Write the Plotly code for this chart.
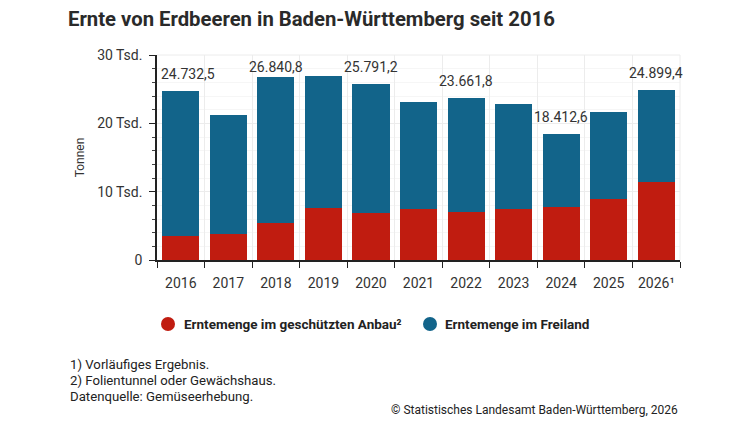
import plotly.graph_objects as go

years = ["2016", "2017", "2018", "2019", "2020", "2021", "2022", "2023", "2024", "2025", "2026¹"]
totals = [24732.5, 21200, 26840.8, 27000, 25791.2, 23100, 23661.8, 22900, 18412.6, 21600, 24899.4]
geschuetzt = [3500, 3760, 5460, 7660, 6830, 7500, 7000, 7460, 7800, 8900, 11400]
freiland = [round(t - g, 1) for t, g in zip(totals, geschuetzt)]
label_years = ["2016", "2018", "2020", "2022", "2024", "2026¹"]
y_tickvals = [0, 10000, 20000, 30000]
y_ticktext = ["0", "10 Tsd.", "20 Tsd.", "30 Tsd."]

RED = "#c01c10"
BLUE = "#12648a"
FONT = "Roboto"


def de_fmt(v):
    s = f"{v:,.1f}"
    return s.replace(",", "X").replace(".", ",").replace("X", ".")


fig = go.Figure()
fig.add_bar(x=years, y=geschuetzt, name="Erntemenge im geschützten Anbau²",
            marker=dict(color=RED, line=dict(width=0)))
fig.add_bar(x=years, y=freiland, name="Erntemenge im Freiland",
            marker=dict(color=BLUE, line=dict(width=0)))

annotations = []
for i, (yr, tot) in enumerate(zip(years, totals)):
    if yr in label_years:
        annotations.append(dict(x=i, y=tot, xref="x", yref="y", text=de_fmt(tot),
                                showarrow=False, yanchor="bottom",
                                yshift=7 if yr != "2018" else 0,
                                xshift=7 if i == 0 else 0,
                                font=dict(family=FONT, size=14, color="#333333")))

fig.update_layout(
    width=748, height=421,
    margin=dict(l=157, r=68, t=55, b=161),
    barmode="stack", bargap=0.22,
    plot_bgcolor="white", paper_bgcolor="white",
    font=dict(family=FONT, size=13, color="#333333"),
    showlegend=False,
    title=dict(text="<b>Ernte von Erdbeeren in Baden-Württemberg seit 2016</b>",
               x=68 / 748, xanchor="left", y=1 - 19 / 421, yanchor="middle",
               font=dict(family=FONT, size=20.3, color="#2a2a2a")),
    xaxis=dict(type="category", range=[-0.5, len(years) - 0.5], tickson="boundaries",
               ticks="outside", ticklen=6, ticklabelstandoff=9,
               tickcolor="#222222", showline=True, linecolor="#222222", linewidth=1.5,
               showgrid=True, gridcolor="#ececec", gridwidth=1, tickangle=0,
               tickfont=dict(size=14, color="#333333")),
    yaxis=dict(range=[0, 30000], tickvals=y_tickvals, ticktext=y_ticktext,
               ticks="outside", ticklen=6, tickcolor="#222222", ticklabelstandoff=4,
               showline=True, linecolor="#222222", linewidth=1.5,
               showgrid=True, gridcolor="#ececec", gridwidth=1, zeroline=False,
               minor=dict(dtick=2000, ticks="outside", ticklen=3, tickcolor="#444444",
                          showgrid=True, gridcolor="#f6f6f6"),
               tickfont=dict(size=14, color="#333333"),
               title=dict(text="Tonnen", font=dict(size=12, color="#333333"), standoff=10)),
)

shapes = []
shapes.append(dict(type="line", xref="paper", yref="paper", x0=0, x1=1, y0=1, y1=1,
                   line=dict(color="#ececec", width=1)))
shapes.append(dict(type="line", xref="paper", yref="paper", x0=1, x1=1, y0=0, y1=1,
                   line=dict(color="#ececec", width=1)))

paper_w = 748 - 157 - 68
paper_h = 421 - 55 - 161


def px_x(p):
    return (p - 157) / paper_w


def px_y(p):
    return (421 - 161 - p) / paper_h


for cx, col in [(168, RED), (430, BLUE)]:
    shapes.append(dict(type="circle", xref="paper", yref="paper",
                       x0=px_x(cx - 7), x1=px_x(cx + 7), y0=px_y(324 + 7), y1=px_y(324 - 7),
                       fillcolor=col, line=dict(width=0)))
annotations += [
    dict(x=px_x(182), y=px_y(324), xref="paper", yref="paper", xanchor="left", yanchor="middle",
         text="<b>Erntemenge im geschützten Anbau²</b>", showarrow=False,
         font=dict(family=FONT, size=13.5, color="#222222")),
    dict(x=px_x(443), y=px_y(324), xref="paper", yref="paper", xanchor="left", yanchor="middle",
         text="<b>Erntemenge im Freiland</b>", showarrow=False,
         font=dict(family=FONT, size=13.5, color="#222222")),
]
for i, line in enumerate(["1) Vorläufiges Ergebnis.", "2) Folientunnel oder Gewächshaus.",
                          "Datenquelle: Gemüseerhebung."]):
    annotations.append(dict(x=px_x(68), y=px_y(364 + i * 16), xref="paper", yref="paper",
                            xanchor="left", yanchor="middle", text=line, showarrow=False,
                            font=dict(family=FONT, size=13.2, color="#222222")))
annotations.append(dict(x=px_x(680), y=px_y(410), xref="paper", yref="paper",
                        xanchor="right", yanchor="middle",
                        text="© Statistisches Landesamt Baden-Württemberg, 2026", showarrow=False,
                        font=dict(family=FONT, size=12, color="#222222")))

fig.update_layout(shapes=shapes, annotations=annotations)
fig.write_html("out.html")
